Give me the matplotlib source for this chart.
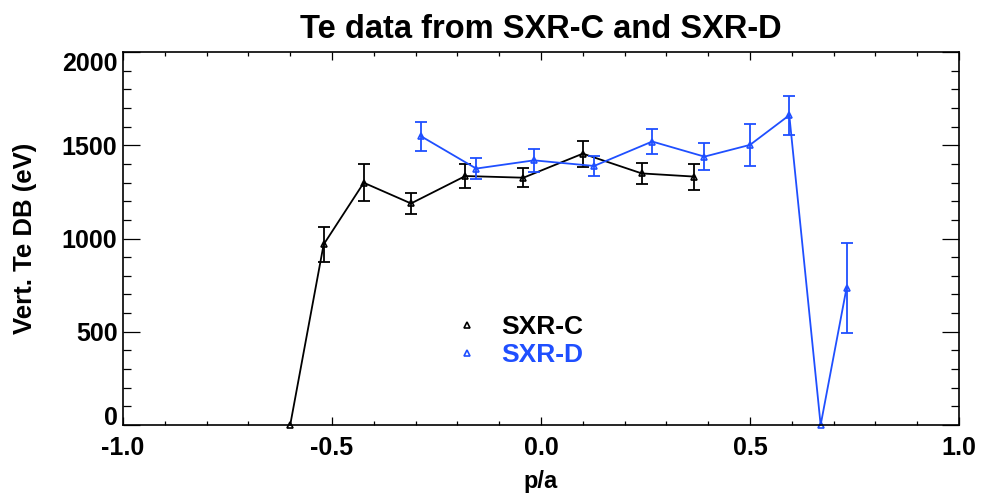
import numpy as np
import matplotlib
matplotlib.use('Agg')
import matplotlib.pyplot as plt
from matplotlib.lines import Line2D
from matplotlib.ticker import MultipleLocator, FormatStrFormatter

# SXR-C (black)
rho_c = [-0.60, -0.52, -0.424, -0.311, -0.181, -0.042, 0.100, 0.241, 0.366]
te_c = [0, 968, 1299, 1188, 1335, 1326, 1455, 1349, 1332]
err_c = [0, 94, 100, 57, 65, 51, 70, 57, 70]

# SXR-D (blue)
rho_d = [-0.286, -0.155, -0.017, 0.127, 0.266, 0.391, 0.500, 0.594, 0.669, 0.731]
te_d = [1547, 1375, 1419, 1389, 1520, 1439, 1502, 1661, 0, 735]
err_d = [77, 57, 60, 53, 67, 73, 113, 105, 0, 242]

blue = '#1f4fff'
plt.rcParams['font.family'] = ['Liberation Sans', 'DejaVu Sans']
plt.rcParams['font.weight'] = 'bold'

fig = plt.figure(figsize=(9.85, 5.0), dpi=100)
ax = fig.add_axes([123/985, 75/500, 836/985, 373/500])

for x, y, e, c in [(rho_c, te_c, err_c, 'black'), (rho_d, te_d, err_d, blue)]:
    x = np.array(x); y = np.array(y); e = np.array(e)
    ax.plot(x, y, color=c, lw=1.3, marker='^', ms=5, mfc='none', mew=1.2, clip_on=False)
    m = e > 0
    ax.errorbar(x[m], y[m], yerr=e[m], fmt='none', ecolor=c, elinewidth=1.3,
                capsize=4, capthick=1.3)

ax.set_xlim(-1.0, 1.0)
ax.set_ylim(0, 2000)
ax.xaxis.set_major_locator(MultipleLocator(0.5))
ax.xaxis.set_minor_locator(MultipleLocator(0.1))
ax.yaxis.set_major_locator(MultipleLocator(500))
ax.yaxis.set_minor_locator(MultipleLocator(100))
ax.xaxis.set_major_formatter(FormatStrFormatter('%.1f'))
ax.tick_params(axis='x', which='major', direction='in', length=5.5, width=0.9,
               top=True, labelsize=18, pad=8)
ax.tick_params(axis='x', which='minor', direction='in', length=2.8, width=0.9, top=True)
ax.tick_params(axis='y', which='major', direction='in', length=12, width=0.9,
               right=True, labelsize=18, pad=4)
ax.tick_params(axis='y', which='minor', direction='in', length=6, width=0.9, right=True)
for s in ax.spines.values():
    s.set_linewidth(1.2)

# IDL keeps the end labels inside the axis range
fig.canvas.draw()
for lab in ax.get_yticklabels():
    if lab.get_text() == '0':
        lab.set_verticalalignment('baseline')
    elif lab.get_text() == '2000':
        lab.set_verticalalignment('top')

ax.set_xlabel('p/a', fontsize=17, fontweight='bold', labelpad=7)
ax.set_ylabel('Vert. Te DB (eV)', fontsize=18.5, fontweight='bold', labelpad=18)
ax.set_title('Te data from SXR-C and SXR-D', fontsize=23.5, fontweight='bold', pad=10)

handles = [Line2D([], [], ls='none', marker='^', ms=5, mfc='none', mew=1.2, color='black'),
           Line2D([], [], ls='none', marker='^', ms=5, mfc='none', mew=1.2, color=blue)]
leg = ax.legend(handles, ['SXR-C', 'SXR-D'], loc='center left', bbox_to_anchor=(0.37, 0.225),
                frameon=False, fontsize=19, handlelength=0.8, handletextpad=0.9,
                labelspacing=0.15, labelcolor=['black', blue])

fig.savefig('out.png', dpi=100)
